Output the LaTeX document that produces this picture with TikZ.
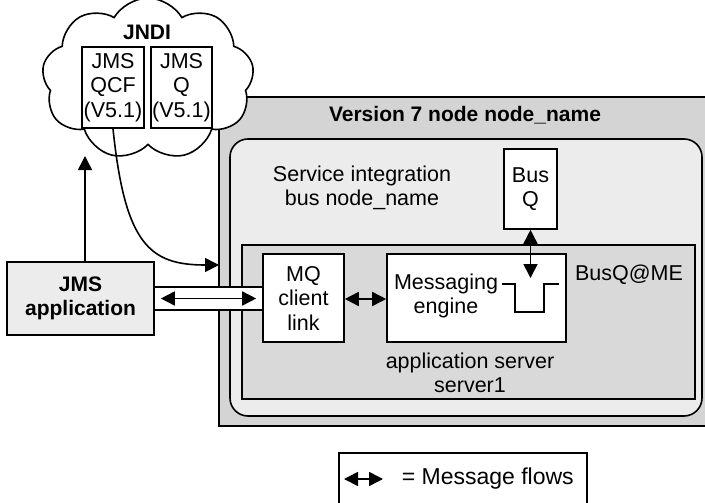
\documentclass[tikz,border=0pt]{standalone}
\usepackage{fontspec}
\setmainfont{Liberation Sans}
\usetikzlibrary{arrows.meta,shapes.symbols,calc}
\definecolor{outergray}{HTML}{D4D4D4}
\definecolor{lightgray}{HTML}{ECECEC}
\definecolor{midgray}{HTML}{D9D9D9}
\begin{document}
\begin{tikzpicture}[x=1pt,y=-1pt,
  line width=1.6pt,
  every node/.style={font=\fontsize{21.5}{24.5}\selectfont, inner sep=0pt},
  box/.style={draw, rectangle, align=center},
  tip/.style={-{Triangle[length=14pt,width=14pt]}},
  dtip/.style={{Triangle[length=14pt,width=14pt]}-{Triangle[length=14pt,width=14pt]}},
  txt/.style={align=center},
  boldtxt/.style={align=center, font=\fontsize{21}{24.5}\selectfont\bfseries}
]
\useasboundingbox (0,0) rectangle (705,503);
% outer node box
\node[box, fill=outergray, minimum width=491pt, minimum height=329pt] (outer) at (464.5,261.5) {};
\node[boldtxt] (vlabel) at (465,115) {Version 7 node node\_name};
% service integration bus
\node[box, fill=lightgray, rounded corners=18pt, minimum width=472pt, minimum height=277pt] (bus) at (466,277.5) {};
\node[txt] (buslabel) at (362,188) {Service integration\\bus node\_name};
% app server
\node[box, fill=midgray, minimum width=453pt, minimum height=154pt] (app) at (468.5,322) {};
\node[txt] (applabel) at (470,373) {application server\\server1};
\node[txt] (busqme) at (629,275) {BusQ@ME};
% MQ client link
\node[box, fill=white, minimum width=81pt, minimum height=88pt] (mq) at (303.5,298) {MQ\\client\\link};
% Messaging engine
\node[box, fill=white, minimum width=179pt, minimum height=88pt] (me) at (476.5,298) {};
\node[txt] (melabel) at (446,296) {Messaging\\engine};
% Bus Q
\node[box, fill=white, minimum width=53pt, minimum height=80pt] (busq) at (530.5,189) {Bus\\Q};
% queue symbol
\coordinate (q1) at (502,284);
\coordinate (q2) at (515,284);
\coordinate (q3) at (515,312);
\coordinate (q4) at (544,312);
\coordinate (q5) at (544,284);
\coordinate (q6) at (559,284);
\draw (q1) -- (q2) -- (q3) -- (q4) -- (q5) -- (q6);
\coordinate (qtop) at (530.5,278);
\draw[dtip] (busq.south) -- (qtop);
% JMS application
\node[box, fill=lightgray, minimum width=147pt, minimum height=73pt, boldtxt] (jms) at (80.5,298.5) {JMS\\application};
% tube
\coordinate (t1) at ($(jms.east)+(0,-11.5)$);
\coordinate (t2) at ($(jms.east)+(0,11.5)$);
\coordinate (t3) at (t1 -| mq.west);
\coordinate (t4) at (t2 -| mq.west);
\fill[white] (t1) rectangle (t4);
\draw (t1) -- (t3);
\draw (t2) -- (t4);
\draw[dtip] ($(jms.east)+(6,0)$) -- ($(jms.east -| mq.west)+(-6,0)$);
\draw[dtip] (mq.east |- 0,299) -- (me.west |- 0,299);
% cloud
\node[cloud, draw, fill=white, cloud puffs=9, cloud puff arc=120, aspect=1.3, minimum width=212pt, minimum height=162pt] (cloud) at (148,79) {};
\node[boldtxt] (jndi) at (147,32) {JNDI};
\node[box, fill=white, minimum width=62pt, minimum height=81pt] (qcf) at (113,87.5) {JMS\\QCF\\(V5.1)};
\node[box, fill=white, minimum width=61pt, minimum height=81pt] (jq) at (181.5,87.5) {JMS\\Q\\(V5.1)};
% connectors
\coordinate (ctip) at (85,156);
\draw[tip] (jms.north -| ctip) -- (ctip);
\coordinate (lookup) at (219,265);
\draw[tip] (qcf.south) .. controls (125,245) and (150,265) .. (lookup);
% legend
\node[box, minimum width=248pt, minimum height=62pt] (legend) at (463,484) {};
\coordinate (la) at (344,479);
\coordinate (lb) at (383,479);
\draw[dtip] (la) -- (lb);
\node[txt, anchor=west, font=\fontsize{23}{26}\selectfont] (legtext) at (401,479) {= Message flows};
\end{tikzpicture}
\end{document}
